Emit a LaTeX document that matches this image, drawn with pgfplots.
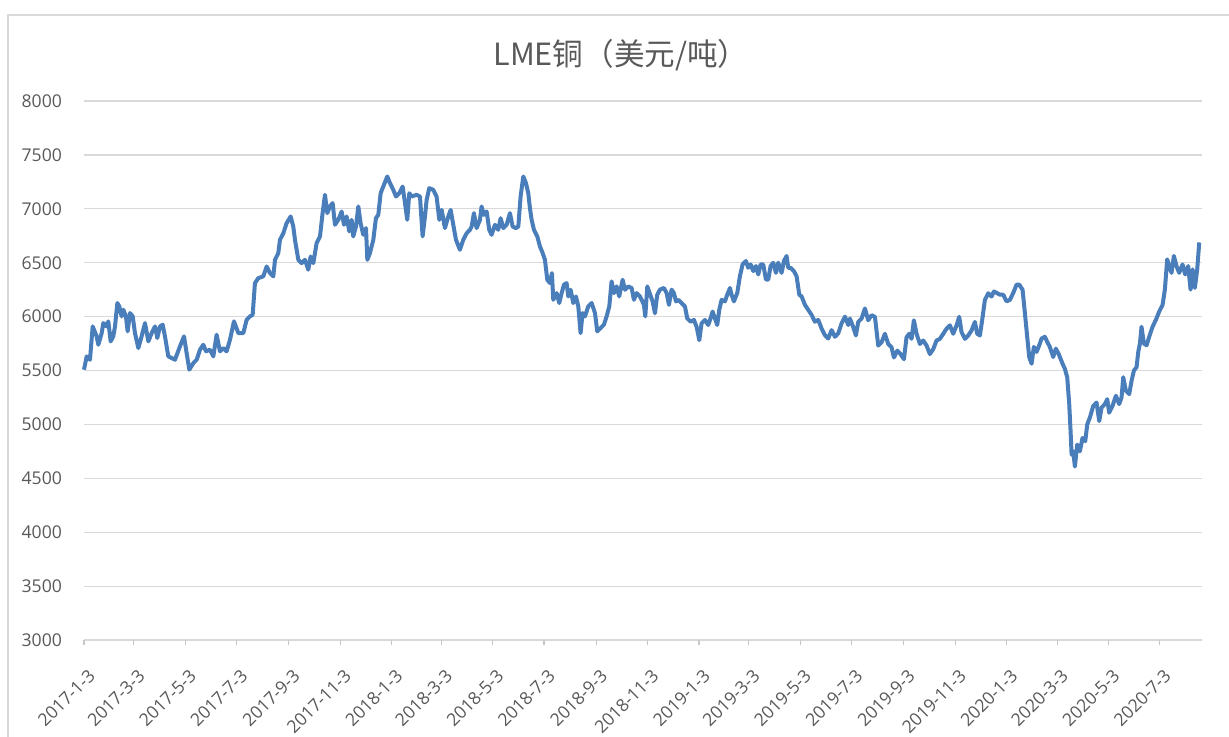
\documentclass[border=0pt]{standalone}
\usepackage{pgfplots}
\pgfplotsset{compat=1.18}
\usepackage{fontspec}
\setmainfont{Open Sans}
\newfontfamily\cjk{Noto Sans CJK SC}
\definecolor{linec}{HTML}{4A7EBB}
\definecolor{txt}{HTML}{595959}
\definecolor{gridc}{HTML}{D9D9D9}
\begin{document}
\begin{tikzpicture}
\begin{axis}[
  scale only axis, width=559pt, height=269.5pt,
  xmin=0, xmax=1327, ymin=3000, ymax=8000,
  axis line style={draw=none},
  ymajorgrids, major grid style={gridc, line width=0.6pt},
  ytick={3000,3500,...,8000},
  ytick style={draw=none},
  xtick={0,59,120,181,243,304,365,424,485,546,608,669,730,789,850,911,973,1034,1095,1155,1216,1277},
  xticklabels={2017-1-3,2017-3-3,2017-5-3,2017-7-3,2017-9-3,2017-11-3,2018-1-3,2018-3-3,2018-5-3,2018-7-3,2018-9-3,2018-11-3,2019-1-3,2019-3-3,2019-5-3,2019-7-3,2019-9-3,2019-11-3,2020-1-3,2020-3-3,2020-5-3,2020-7-3},
  xtick pos=bottom, xtick align=outside, major tick length=2.5pt,
  x tick style={gridc!80!gray, line width=0.6pt},
  tick label style={font=\fontsize{8.8}{10}\selectfont, text=txt},
  xticklabel style={rotate=45, anchor=east, xshift=-3.5pt, yshift=-12.5pt},
  yticklabel style={anchor=east, xshift=-7.5pt},
  /pgf/number format/.cd, 1000 sep={}, assume math mode=true,
  /pgfplots/.cd,
  title={{\cjk LME铜（美元/吨）}},
  title style={at={(0.4803,1)}, anchor=center, yshift=17pt, font=\fontsize{15.3}{18}\selectfont, text=txt},
  clip=false,
]
\addplot[linec, line width=2pt, line join=round] coordinates {
(0,5508)(3.2,5631)(7.1,5600)(10.3,5909)(15.0,5817)(17.0,5739)(21.0,5847)(22.9,5940)(26.9,5909)(28.9,5956)
(31.6,5770)(34.8,5817)(36.8,5909)(39.6,6126)(41.9,6095)(44.7,6002)(46.7,6064)(49.8,6002)(51.8,5863)(54.6,6033)
(57.8,6002)(60.5,5847)(64.5,5708)(68.4,5817)(72.4,5940)(76.4,5770)(80.3,5847)(84.3,5909)(87.0,5801)(90.2,5909)
(93.4,5925)(96.1,5817)(100.1,5631)(104.0,5616)(108.0,5600)(113.9,5724)(118.7,5817)(121.8,5662)(125.0,5508)(129.8,5569)
(133.7,5600)(137.7,5693)(141.6,5739)(144.8,5678)(149.5,5693)(153.5,5631)(157.4,5832)(161.4,5678)(165.4,5708)(169.3,5678)
(173.3,5786)(178.0,5956)(183.2,5847)(189.1,5847)(193.1,5971)(197.0,6002)(200.2,6017)(202.9,6311)(206.9,6357)(212.8,6373)
(216.8,6465)(220.7,6404)(224.7,6373)(226.7,6527)(230.6,6589)(232.6,6713)
(236.6,6774)(240.5,6867)(245.3,6929)(248.4,6836)(250.4,6713)(254.4,6527)(258.3,6496)(262.3,6527)(266.2,6435)(269.0,6558)
(272.2,6496)(276.1,6682)(280.1,6744)(283.2,6960)(286.0,7130)(288.8,6960)(291.9,7022)(295.1,7053)(297.9,6852)(301.8,6898)
(305.8,6975)(308.6,6852)(311.7,6929)(314.9,6790)(317.7,6898)(319.6,6744)(322.8,6836)(325.6,7022)(328.3,6867)(331.5,6759)
(334.7,6821)(336.3,6527)(339.4,6589)(343.4,6713)(346.5,6913)(349.3,6944)(352.1,7145)(355.2,7207)(360.0,7300)(363.2,7238)
(367.1,7176)(370.3,7114)(374.2,7145)(378.2,7207)(381.0,7053)(383.7,6898)(386.1,7145)(388.9,7114)(394.8,7130)(398.8,7114)
(401.9,6744)(404.7,6929)(406.7,7083)(409.8,7192)(414.6,7176)(418.5,7114)(421.7,6898)(424.5,6990)(428.4,6821)(432.4,6929)
(435.2,6990)(438.3,6852)(441.5,6713)(446.2,6620)(450.2,6713)(454.2,6774)(458.1,6805)
(460.1,6836)(462.8,6960)(466.0,6821)(470.0,6898)(471.9,7022)(474.7,6944)(477.9,6975)(481.0,6805)(483.8,6759)(487.8,6852)
(491.7,6805)(494.5,6913)(497.7,6821)(501.6,6852)(505.6,6960)(508.7,6836)(512.7,6821)(515.5,6836)(518.2,7114)(521.4,7300)
(524.6,7238)(527.3,7145)(529.3,7006)(531.3,6898)(534.1,6805)(538.0,6744)(541.2,6651)(544.4,6589)(547.1,6527)(549.9,6342)
(553.0,6311)(555.4,6404)(557.0,6156)(561.0,6218)(564.1,6126)(566.9,6218)(569.7,6296)(572.8,6311)(574.8,6187)(577.6,6249)
(580.7,6126)(583.9,6187)(586.7,6095)(589.4,5847)(591.8,6033)(594.6,6002)(598.5,6095)(602.5,6126)(606.5,6033)(609.2,5863)
(613.2,5894)(617.1,5925)(620.3,6002)(623.5,6095)(626.2,6327)(629.0,6218)(632.2,6280)(635.3,6187)(639.3,6342)(642.1,6249)
(646.0,6280)(650.0,6265)(652.7,6156)(655.9,6218)(659.9,6187)(664.6,6110)(666.2,6002)(668.6,6280)
(674.9,6141)(677.7,6031)(680.4,6203)(683.6,6250)(688.3,6266)(691.5,6219)(694.3,6109)(697.4,6250)(700.2,6219)(702.6,6141)
(705.3,6156)(709.3,6125)(713.3,6094)(716.0,5984)(720.0,5953)(723.9,5969)(727.1,5906)(730.3,5781)(733.0,5938)(737.0,5969)
(740.9,5922)(743.7,5984)(746.1,6047)(748.9,5984)(751.6,5922)(754.0,6063)(756.8,6156)(760.7,6141)(763.5,6203)(766.7,6266)
(768.6,6203)(771.4,6141)(775.4,6219)(778.5,6375)(781.7,6484)(785.7,6516)(788.4,6453)(791.2,6484)(794.4,6422)(797.5,6469)
(800.3,6391)(803.1,6484)(806.2,6484)(809.4,6344)(812.2,6344)(814.9,6469)(818.1,6500)(821.3,6406)(824.0,6500)(828.0,6406)
(830.8,6516)(833.9,6563)(835.9,6453)(838.7,6453)(842.6,6422)(845.8,6375)(849.0,6203)(851.7,6188)(855.7,6109)(859.6,6063)
(863.6,6016)(867.5,5953)(871.5,5969)(875.4,5891)(879.4,5828)(883.4,5797)(887.3,5875)(891.3,5813)(895.2,5844)(899.2,5938)
(903.2,6000)(907.1,5922)
(909.1,5982)(913.0,5903)(916.2,5825)(919.0,5951)(922.9,5982)(926.9,6076)(930.8,5966)(934.8,6013)(938.8,5998)(942.7,5731)
(946.7,5762)(950.6,5841)(954.6,5746)(958.5,5715)(961.3,5621)(965.3,5684)(969.2,5652)(973.2,5605)(976.3,5809)(979.5,5841)
(982.3,5794)(985.0,5966)(988.2,5841)(992.2,5746)(996.1,5778)(1000.1,5731)(1004.0,5652)(1008.0,5699)(1011.9,5778)(1015.9,5794)
(1019.9,5841)(1023.8,5888)(1027.8,5919)(1031.7,5841)(1035.7,5919)(1038.8,5998)(1041.6,5856)(1045.6,5794)(1049.5,5825)(1053.5,5872)
(1057.4,5951)(1060.2,5841)(1063.4,5825)(1066.6,5998)(1069.3,6155)(1073.3,6217)(1077.2,6186)(1080.0,6233)(1084.0,6217)
(1087.1,6203)(1091.1,6203)(1095.0,6141)(1099.0,6156)(1102.9,6219)(1106.9,6297)(1110.0,6297)(1114.0,6250)(1116.8,6031)(1119.5,5813)
(1121.9,5625)(1124.7,5563)(1127.4,5719)(1130.6,5672)(1133.8,5734)(1136.6,5797)(1140.5,5813)(1143.3,5766)(1146.4,5719)(1150.4,5625)
(1153.5,5703)(1156.7,5656)(1159.1,5609)(1161.5,5563)(1164.2,5516)(1167.0,5438)(1169.4,5188)(1171.0,4938)(1172.2,4719)(1174.1,4750)
(1176.1,4609)(1178.9,4813)(1182.0,4750)(1185.2,4875)(1188.4,4844)(1190.8,5000)(1193.9,5063)(1197.9,5172)(1201.8,5203)(1205.0,5031)
(1207.8,5156)(1211.7,5188)(1214.5,5234)(1216.8,5109)(1220.8,5172)(1224.8,5266)(1228.7,5188)(1231.5,5250)(1233.5,5438)(1236.6,5313)
(1240.6,5281)(1243.4,5406)(1246.2,5500)(1249.3,5531)(1251.3,5672)(1253.3,5750)(1255.2,5906)(1258.0,5750)(1261.2,5734)(1264.3,5813)
(1268.3,5906)(1272.2,5969)(1276.2,6047)(1280.2,6109)(1282.9,6250)(1285.7,6531)(1288.1,6469)(1290.8,6406)(1293.6,6563)(1296.7,6469)
(1299.9,6406)(1303.9,6484)(1307.0,6391)(1310.6,6469)(1313.4,6250)(1315.8,6438)(1318.5,6266)(1321.3,6438)(1323.7,6688)
};
\end{axis}
\draw[gridc, line width=0.6pt] (-38pt,-70pt) -- (-38pt,312.5pt) -- (600pt,312.5pt);
\pgfresetboundingbox
\useasboundingbox (-42pt,-48pt) rectangle (572.5pt,320pt);
\end{tikzpicture}
\end{document}
